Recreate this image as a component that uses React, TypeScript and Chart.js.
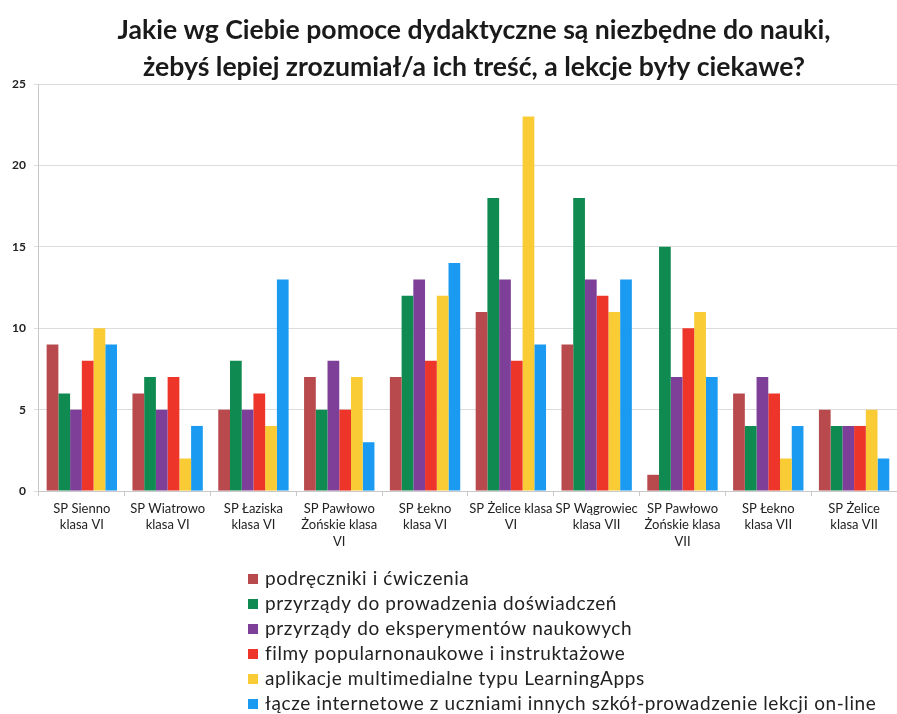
import React, { useEffect, useRef } from "react";
import { Chart, registerables } from "chart.js";

Chart.register(...registerables);

const categories: string[][] = [
  ["SP Sienno", "klasa VI"],
  ["SP Wiatrowo", "klasa VI"],
  ["SP Łaziska", "klasa VI"],
  ["SP Pawłowo", "Żońskie klasa", "VI"],
  ["SP Łekno", "klasa VI"],
  ["SP Żelice klasa", "VI"],
  ["SP Wągrowiec", "klasa VII"],
  ["SP Pawłowo", "Żońskie klasa", "VII"],
  ["SP Łekno", "klasa VII"],
  ["SP Żelice", "klasa VII"],
];

const seriesNames = [
  "podręczniki i ćwiczenia",
  "przyrządy do prowadzenia doświadczeń",
  "przyrządy do eksperymentów naukowych",
  "filmy popularnonaukowe i instruktażowe",
  "aplikacje multimedialne typu LearningApps",
  "łącze internetowe z uczniami innych szkół-prowadzenie lekcji on-line",
];

const podreczniki = [9, 6, 5, 7, 7, 11, 9, 1, 6, 5];
const doswiadczenia = [6, 7, 8, 5, 12, 18, 18, 15, 4, 4];
const eksperymenty = [5, 5, 5, 8, 13, 13, 13, 7, 7, 4];
const filmy = [8, 7, 6, 5, 8, 8, 12, 10, 6, 4];
const aplikacje = [10, 2, 4, 7, 12, 23, 11, 11, 2, 5];
const lacze = [9, 4, 13, 3, 14, 9, 13, 7, 4, 2];

const yTicks = [0, 5, 10, 15, 20, 25];

const titleLines = [
  "Jakie wg Ciebie pomoce dydaktyczne są niezbędne do nauki,",
  "żebyś lepiej zrozumiał/a ich treść, a lekcje były ciekawe?",
];

const colors = ["#b84a4e", "#0f8a50", "#7e3f98", "#ee3529", "#f9cc36", "#1a9af0"];

const FONT = "Lato, 'Open Sans', sans-serif";

const titlePlugin = {
  id: "customTitle",
  afterDraw(chart: any) {
    const ctx = chart.ctx;
    ctx.save();
    ctx.font = `bold 26.6px ${FONT}`;
    ctx.textBaseline = "middle";
    ctx.textAlign = "center";
    ctx.fillStyle = "#1a1a1a";
    titleLines.forEach((line, i) => {
      ctx.fillText(line, 474, 30 + i * 37);
    });
    ctx.restore();
  },
};

const legendPlugin = {
  id: "verticalLegend",
  afterDraw(chart: any) {
    const ctx = chart.ctx;
    ctx.save();
    ctx.font = `19px ${FONT}`;
    (ctx as any).letterSpacing = "0.6px";
    ctx.textBaseline = "middle";
    ctx.textAlign = "left";
    chart.data.datasets.forEach((ds: any, i: number) => {
      const y = 579 + i * 25;
      ctx.fillStyle = ds.backgroundColor;
      ctx.fillRect(248, y - 5, 10, 10);
      ctx.fillStyle = "#222";
      ctx.fillText(ds.label, 265, y);
    });
    ctx.restore();
  },
};

export default function App() {
  const ref = useRef<HTMLCanvasElement>(null);
  useEffect(() => {
    document.body.style.margin = "0";
    document.body.style.background = "#ffffff";
    const data = [podreczniki, doswiadczenia, eksperymenty, filmy, aplikacje, lacze];
    const chart = new Chart(ref.current!, {
      type: "bar",
      data: {
        labels: categories,
        datasets: data.map((d, i) => ({
          label: seriesNames[i],
          data: d,
          backgroundColor: colors[i],
          borderWidth: 0,
          categoryPercentage: 0.82,
          barPercentage: 1,
        })),
      },
      options: {
        responsive: false,
        animation: false,
        layout: { padding: { top: 84, right: 0, left: 4, bottom: 160 } },
        plugins: {
          legend: { display: false },
          tooltip: { enabled: false },
          title: { display: false },
        },
        scales: {
          x: {
            grid: { display: true, drawOnChartArea: false, offset: true, tickLength: 5, color: "#c8c8c8" },
            border: { color: "#c8c8c8" },
            ticks: {
              autoSkip: false,
              maxRotation: 0,
              color: "#222",
              font: { family: FONT, size: 13, lineHeight: 1.28 },
              padding: 4,
            },
          },
          y: {
            min: 0,
            max: 25,
            afterBuildTicks: (axis: any) => {
              axis.ticks = yTicks.map((v) => ({ value: v }));
            },
            grid: { color: "#dcdcdc", tickLength: 5 },
            border: { color: "#c8c8c8" },
            ticks: {
              color: "#222",
              font: { family: FONT, size: 12, weight: "bold" },
              padding: 8,
            },
          },
        },
      },
      plugins: [titlePlugin, legendPlugin],
    });
    return () => chart.destroy();
  }, []);
  return <canvas ref={ref} width={897} height={714} style={{ display: "block" }} />;
}
